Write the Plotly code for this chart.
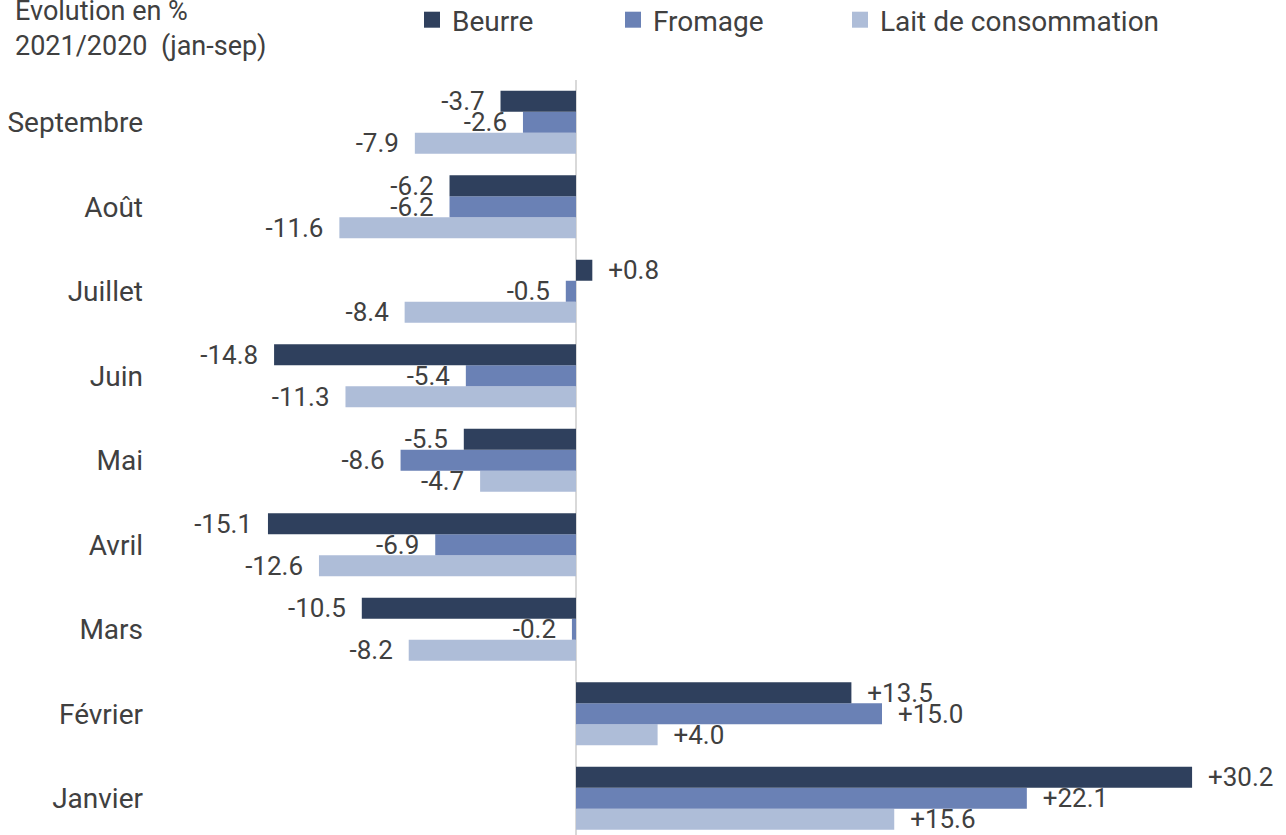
import plotly.graph_objects as go

categories = ["Janvier", "Février", "Mars", "Avril", "Mai", "Juin", "Juillet", "Août", "Septembre"]
beurre = [30.2, 13.5, -10.5, -15.1, -5.5, -14.8, 0.8, -6.2, -3.7]
fromage = [22.1, 15.0, -0.2, -6.9, -8.6, -5.4, -0.5, -6.2, -2.6]
lait = [15.6, 4.0, -8.2, -12.6, -4.7, -11.3, -8.4, -11.6, -7.9]

series_names = ["Beurre", "Fromage", "Lait de consommation"]
colors = ["#2F405D", "#6A81B5", "#AEBDD8"]

FONT = "Roboto"
TXT = "#404040"
FS_LBL = 26
FS_CAT = 28
FS_LEG = 28
FS_TTL = 27
NB = "\u00a0\u00a0"


def labels(vals):
    out = []
    for v in vals:
        if v >= 0:
            out.append(NB + f"+{v:.1f}")
        else:
            out.append(f"{v:.1f}" + NB)
    return out


fig = go.Figure()
series = [beurre, fromage, lait]
legends = ["legend", "legend2", "legend3"]
for i in [2, 1, 0]:
    fig.add_trace(go.Bar(
        y=categories, x=series[i], orientation="h",
        name=series_names[i], showlegend=False,
        marker=dict(color=colors[i], line=dict(width=0)),
        text=labels(series[i]), textposition="outside",
        textfont=dict(family=FONT, size=FS_LBL, color=TXT),
        constraintext="none", cliponaxis=False,
    ))
# legend entries with larger square swatches
for i in range(3):
    fig.add_trace(go.Scatter(
        x=[None], y=[None], mode="markers", name=series_names[i],
        marker=dict(symbol="square", size=16, color=colors[i], line=dict(width=0)),
        legend=legends[i], showlegend=True,
    ))

W, H = 1286, 835
L, R, T, B = 150, 16, 80, 0
PW, PH = W - L - R, H - T - B
zero_px = 576
ppu = 20.4
xmin = -(zero_px - L) / ppu
xmax = (W - R - zero_px) / ppu
cat_px = 84.5
ytop = 8.5
ybot = ytop - PH / cat_px

leg_common = dict(orientation="h", xref="container", yref="container",
                  yanchor="middle", y=1 - 20 / H, xanchor="left",
                  font=dict(family=FONT, size=FS_LEG, color=TXT),
                  bgcolor="rgba(0,0,0,0)", itemclick=False, itemdoubleclick=False)

fig.update_layout(
    width=W, height=H,
    margin=dict(l=L, r=R, t=T, b=B),
    paper_bgcolor="white", plot_bgcolor="white",
    barmode="group", bargap=0.2544, bargroupgap=0,
    font=dict(family=FONT, size=FS_CAT, color=TXT),
    showlegend=True,
    legend=dict(x=412 / W, **leg_common),
    legend2=dict(x=613 / W, **leg_common),
    legend3=dict(x=840 / W, **leg_common),
    xaxis=dict(range=[xmin, xmax], showgrid=False, showticklabels=False,
               zeroline=True, zerolinecolor="#D9D9D9", zerolinewidth=2,
               ticks="", fixedrange=True),
    yaxis=dict(range=[ybot, ytop], showgrid=False, zeroline=False, ticks="",
               ticklabelstandoff=6, fixedrange=True,
               tickfont=dict(family=FONT, size=FS_CAT, color=TXT)),
    annotations=[dict(
        text="Évolution en %<br>2021/2020\u00a0\u00a0(jan-sep)",
        xref="paper", yref="paper", x=(13 - L) / PW, y=1 + T / PH,
        xanchor="left", yanchor="top", yshift=8, align="left",
        showarrow=False, font=dict(family=FONT, size=FS_TTL, color=TXT),
    )],
)

fig.write_html("out.html", config={"displayModeBar": False},
               post_script="document.body.style.margin='0';")
